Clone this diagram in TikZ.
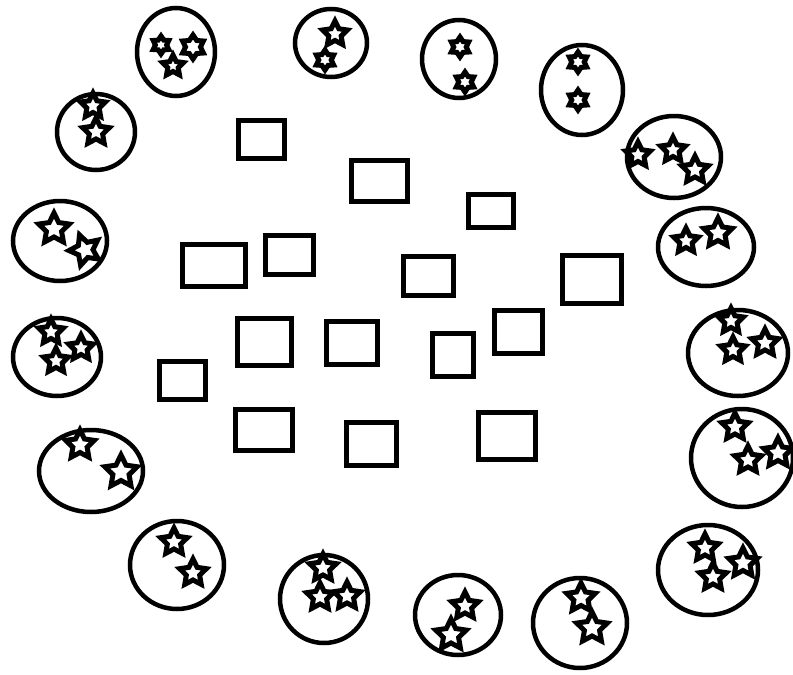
\documentclass[tikz,border=0pt]{standalone}
\usepackage{tikz}
\usetikzlibrary{shapes.geometric}

\begin{document}
\begin{tikzpicture}[x=1pt, y=-1pt,
      blob/.style={draw, ellipse, line width=4.5pt, inner sep=0pt},
      cell/.style={draw, rectangle, line width=5.5pt, inner sep=0pt},
      fivestar/.style={draw, star, star points=5, star point ratio=2.0,
                       line width=5pt, miter limit=3, inner sep=0pt, minimum size=#1},
      fivestar/.default=24pt,
      sixstar/.style={draw, star, star points=6, star point ratio=1.6,
                      line width=5pt, miter limit=3, inner sep=0pt, minimum size=#1},
      sixstar/.default=20pt]
    \useasboundingbox (0,0) rectangle (793,675);
    % ring of ellipses, clockwise from top left
    \node[blob, minimum width=78pt, minimum height=88pt] (b1) at (176,52) {};
    \node[sixstar=18pt] (b1s1) at (161,45) {};
    \node[sixstar=24pt] (b1s2) at (193,47) {};
    \node[fivestar=22pt] (b1s3) at (173,66) {};
    \node[blob, minimum width=72pt, minimum height=68pt] (b2) at (331,43) {};
    \node[fivestar=26pt] (b2s1) at (335,34) {};
    \node[sixstar=20pt] (b2s2) at (325,60) {};
    \node[blob, minimum width=74pt, minimum height=78pt] (b3) at (459,59) {};
    \node[sixstar=20pt] (b3s1) at (460,47) {};
    \node[sixstar=20pt] (b3s2) at (465,82) {};
    \node[blob, minimum width=82pt, minimum height=90pt] (b4) at (582,90) {};
    \node[sixstar=20pt] (b4s1) at (578,62) {};
    \node[sixstar=20pt] (b4s2) at (578,100) {};
    \node[blob, minimum width=94pt, minimum height=82pt] (b5) at (674,157) {};
    \node[fivestar=26pt] (b5s1) at (638,155) {};
    \node[fivestar=26pt] (b5s2) at (673,150) {};
    \node[fivestar=28pt] (b5s3) at (695,170) {};
    \node[blob, minimum width=96pt, minimum height=78pt] (b6) at (706,247) {};
    \node[fivestar=26pt] (b6s1) at (686,241) {};
    \node[fivestar=30pt] (b6s2) at (718,233) {};
    \node[blob, minimum width=100pt, minimum height=86pt] (b7) at (738,353) {};
    \node[fivestar=26pt] (b7s1) at (731,321) {};
    \node[fivestar=26pt] (b7s2) at (733,350) {};
    \node[fivestar=28pt] (b7s3) at (765,343) {};
    \node[blob, minimum width=102pt, minimum height=98pt] (b8) at (742,458) {};
    \node[fivestar=28pt] (b8s1) at (735,427) {};
    \node[fivestar=28pt] (b8s2) at (748,460) {};
    \node[fivestar=30pt] (b8s3) at (778,453) {};
    \node[blob, minimum width=100pt, minimum height=90pt] (b9) at (708,570) {};
    \node[fivestar=28pt] (b9s1) at (705,548) {};
    \node[fivestar=30pt] (b9s2) at (743,563) {};
    \node[fivestar=28pt] (b9s3) at (713,577) {};
    \node[blob, minimum width=94pt, minimum height=90pt] (b10) at (580,623) {};
    \node[fivestar=30pt] (b10s1) at (581,598) {};
    \node[fivestar=32pt] (b10s2) at (592,628) {};
    \node[blob, minimum width=86pt, minimum height=80pt] (b11) at (458,615) {};
    \node[fivestar=28pt] (b11s1) at (465,606) {};
    \node[fivestar=32pt] (b11s2) at (451,635) {};
    \node[blob, minimum width=88pt, minimum height=88pt] (b12) at (324,599) {};
    \node[fivestar=28pt] (b12s1) at (323,568) {};
    \node[fivestar=28pt] (b12s2) at (320,597) {};
    \node[fivestar=28pt] (b12s3) at (347,596) {};
    \node[blob, minimum width=94pt, minimum height=88pt] (b13) at (177,565) {};
    \node[fivestar=28pt] (b13s1) at (174,542) {};
    \node[fivestar=28pt] (b13s2) at (193,573) {};
    \node[blob, minimum width=104pt, minimum height=82pt] (b14) at (91,471) {};
    \node[fivestar=30pt] (b14s1) at (80,445) {};
    \node[fivestar=34pt] (b14s2) at (121,472) {};
    \node[blob, minimum width=88pt, minimum height=78pt] (b15) at (57,357) {};
    \node[fivestar=26pt] (b15s1) at (51,332) {};
    \node[fivestar=26pt] (b15s2) at (56,361) {};
    \node[fivestar=26pt] (b15s3) at (81,348) {};
    \node[blob, minimum width=94pt, minimum height=80pt] (b16) at (60,241) {};
    \node[fivestar=32pt] (b16s1) at (54,229) {};
    \node[fivestar=32pt, shape border rotate=20] (b16s2) at (85,250) {};
    \node[blob, minimum width=78pt, minimum height=76pt] (b17) at (96,132) {};
    \node[fivestar=26pt] (b17s1) at (93,106) {};
    \node[fivestar=28pt] (b17s2) at (96,132) {};
    % rectangles in the middle
    \node[cell, minimum width=46pt, minimum height=38pt] (c1) at (261.5,139.5) {};
    \node[cell, minimum width=56pt, minimum height=41pt] (c2) at (379.5,181) {};
    \node[cell, minimum width=45pt, minimum height=33pt] (c3) at (491,211) {};
    \node[cell, minimum width=63pt, minimum height=42pt] (c4) at (214,265.5) {};
    \node[cell, minimum width=48pt, minimum height=39pt] (c5) at (289.5,255) {};
    \node[cell, minimum width=50pt, minimum height=39pt] (c6) at (428.5,276) {};
    \node[cell, minimum width=59pt, minimum height=48pt] (c7) at (592,279.5) {};
    \node[cell, minimum width=54pt, minimum height=47pt] (c8) at (264.5,342) {};
    \node[cell, minimum width=51pt, minimum height=43pt] (c9) at (352,343) {};
    \node[cell, minimum width=48pt, minimum height=43pt] (c10) at (518.5,332) {};
    \node[cell, minimum width=41pt, minimum height=43pt] (c11) at (453,355) {};
    \node[cell, minimum width=46pt, minimum height=38pt] (c12) at (182.5,380.5) {};
    \node[cell, minimum width=57pt, minimum height=41pt] (c13) at (264,430) {};
    \node[cell, minimum width=50pt, minimum height=43pt] (c14) at (371.5,444) {};
    \node[cell, minimum width=57pt, minimum height=47pt] (c15) at (507,436) {};
  \end{tikzpicture}
\end{document}
